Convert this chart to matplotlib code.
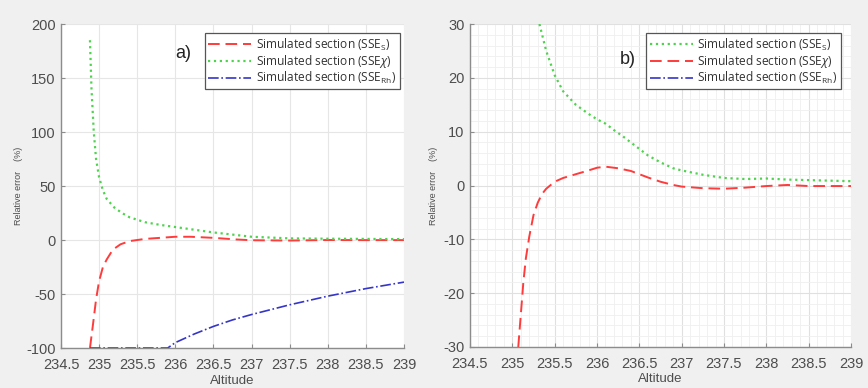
"""Relative error vs altitude, two panels (a: full range, b: zoomed)."""

import matplotlib.pyplot as plt
from matplotlib.ticker import MultipleLocator

BG = "#f0f0f0"
RED = "#ff3b3b"
GREEN = "#4fd34f"
BLUE = "#3535c8"
TICK_COLOR = "#4d4d4d"

# panel a) readings
alt_red_a = [234.88, 234.92, 234.96, 235.0, 235.05, 235.1, 235.18, 235.28, 235.4, 235.6,
             235.8, 236.0, 236.2, 236.5, 236.8, 237.0, 237.5, 238.0, 238.5, 239.0]
err_red_a = [-100, -78, -55, -38, -25, -18, -9, -4, -1, 1,
             2, 3, 3, 2, 0.5, -0.2, -0.5, 0, -0.1, -0.1]
alt_green_a = [234.88, 234.9, 234.93, 234.96, 235.0, 235.05, 235.1, 235.2, 235.3, 235.4,
               235.6, 235.8, 236.0, 236.5, 237.0, 237.5, 238.0, 238.5, 239.0]
err_green_a = [185, 140, 100, 75, 58, 46, 38, 30, 25, 21,
               16.5, 14, 12, 7, 3, 1.5, 1.2, 1.0, 0.8]
alt_blue = [234.88, 235.5, 235.9, 236.0, 236.25, 236.5, 236.75, 237.0, 237.5, 238.0,
            238.5, 239.0]
err_blue = [-100, -100, -100, -95, -87, -80, -74, -69, -60, -52, -45, -39]

# panel b) readings
alt_green_b = [235.32, 235.4, 235.5, 235.6, 235.75, 235.9, 236.0, 236.1, 236.2, 236.3,
               236.4, 236.5, 236.6, 236.75, 236.9, 237.0, 237.25, 237.5, 237.75, 238.0,
               238.25, 238.5, 238.75, 239.0]
err_green_b = [30, 25, 20.5, 17.5, 15, 13.3, 12.3, 11.5, 10.3, 9.2,
               8.0, 6.8, 5.6, 4.3, 3.2, 2.8, 2.0, 1.4, 1.2, 1.3,
               1.1, 1.0, 0.9, 0.8]
alt_red_b = [235.07, 235.1, 235.13, 235.16, 235.2, 235.25, 235.3, 235.35, 235.4, 235.5,
             235.6, 235.75, 235.9, 236.0, 236.1, 236.25, 236.4, 236.5, 236.6, 236.75,
             236.9, 237.0, 237.25, 237.5, 237.75, 238.0, 238.25, 238.5, 239.0]
err_red_b = [-30, -24, -18, -13.5, -9.5, -5.5, -3.2, -1.6, -0.6, 0.7,
             1.4, 2.1, 2.8, 3.3, 3.5, 3.2, 2.7, 2.1, 1.5, 0.7,
             0.1, -0.2, -0.5, -0.6, -0.4, -0.1, 0.1, -0.1, -0.1]

x_ticks = [234.5, 235, 235.5, 236, 236.5, 237, 237.5, 238, 238.5, 239]
x_tick_labels = ["234.5", "235", "235.5", "236", "236.5", "237", "237.5", "238", "238.5", "239"]

plt.rcParams.update({
    "font.family": "Liberation Sans",
    "font.size": 9,
    "xtick.direction": "in",
    "ytick.direction": "in",
    "axes.unicode_minus": False,
    "mathtext.fontset": "custom",
    "mathtext.rm": "Open Sans",
    "mathtext.it": "Open Sans:italic",
})

fig = plt.figure(figsize=(8.68, 3.88), dpi=100, facecolor=BG)
ax_a = fig.add_axes([61 / 868, 1 - 348 / 388, 343 / 868, 324 / 388])
ax_b = fig.add_axes([470 / 868, 1 - 347 / 388, 381 / 868, 323 / 388])


def style_axes(ax, label_x):
    ax.set_facecolor("white")
    for side in ("top", "right"):
        ax.spines[side].set_visible(False)
    for side in ("left", "bottom"):
        ax.spines[side].set_color("#8c8c8c")
        ax.spines[side].set_linewidth(1.0)
    ax.tick_params(colors="#8c8c8c", labelcolor=TICK_COLOR, labelsize=10.5, length=3)
    ax.tick_params(axis="x", pad=7)
    ax.tick_params(axis="y", pad=4)
    ax.set_xlim(234.5, 239)
    ax.set_xticks(x_ticks)
    ax.set_xticklabels(x_tick_labels)
    ax.set_xlabel("Altitude", fontsize=9.5, color=TICK_COLOR)
    ax.xaxis.set_label_coords(0.5, -0.082)
    ax.set_ylabel("Relative error    (%)", fontsize=6.5, color=TICK_COLOR)
    ax.yaxis.set_label_coords(label_x, 0.5)
    ax.set_axisbelow(True)


def add_legend(ax, handles, anchor):
    leg = ax.legend(handles=handles, loc="upper right", bbox_to_anchor=anchor,
                    prop={"family": "Open Sans", "size": 8.6}, frameon=True,
                    fancybox=False, handlelength=3.6, handletextpad=0.4,
                    borderpad=0.3, labelspacing=0.0, borderaxespad=0,
                    edgecolor="#555555", framealpha=1)
    leg.get_frame().set_linewidth(0.9)
    for t in leg.get_texts():
        t.set_color("#333333")


lbl_s = r"Simulated section (SSE$_\mathrm{S}$)"
lbl_x = r"Simulated section (SSE$\chi$)"
lbl_rh = r"Simulated section (SSE$_\mathrm{Rh}$)"

# panel a
style_axes(ax_a, -0.11)
ax_a.set_ylim(-100, 200)
ax_a.set_yticks(range(-100, 201, 50))
ax_a.grid(True, color="#e6e6e6", linewidth=0.8)
r, = ax_a.plot(alt_red_a, err_red_a, color=RED, ls=(0, (6, 3)), lw=1.4, label=lbl_s)
g, = ax_a.plot(alt_green_a, err_green_a, color=GREEN, ls=":", lw=1.6, label=lbl_x)
b, = ax_a.plot(alt_blue, err_blue, color=BLUE, ls="-.", lw=1.2, label=lbl_rh)
add_legend(ax_a, [r, g, b], (0.988, 0.972))
fig.text(175 / 868, 1 - 53 / 388, "a)", fontsize=13, color="#222222", va="center")

# panel b
style_axes(ax_b, -0.085)
ax_b.set_ylim(-30, 30)
ax_b.set_yticks(range(-30, 31, 10))
ax_b.xaxis.set_minor_locator(MultipleLocator(0.1))
ax_b.yaxis.set_minor_locator(MultipleLocator(2))
ax_b.tick_params(which="minor", length=0)
ax_b.grid(True, which="major", color="#e0e0e0", linewidth=0.8)
ax_b.grid(True, which="minor", color="#efefef", linewidth=0.6)
g2, = ax_b.plot(alt_green_b, err_green_b, color=GREEN, ls=":", lw=1.6, label=lbl_s)
r2, = ax_b.plot(alt_red_b, err_red_b, color=RED, ls=(0, (6, 3)), lw=1.4, label=lbl_x)
b2, = ax_b.plot(alt_blue, err_blue, color=BLUE, ls="-.", lw=1.2, label=lbl_rh)
add_legend(ax_b, [g2, r2, b2], (0.974, 0.972))
fig.text(620 / 868, 1 - 60 / 388, "b)", fontsize=13, color="#222222", va="center")

fig.savefig("out.png", dpi=100, facecolor=BG)
